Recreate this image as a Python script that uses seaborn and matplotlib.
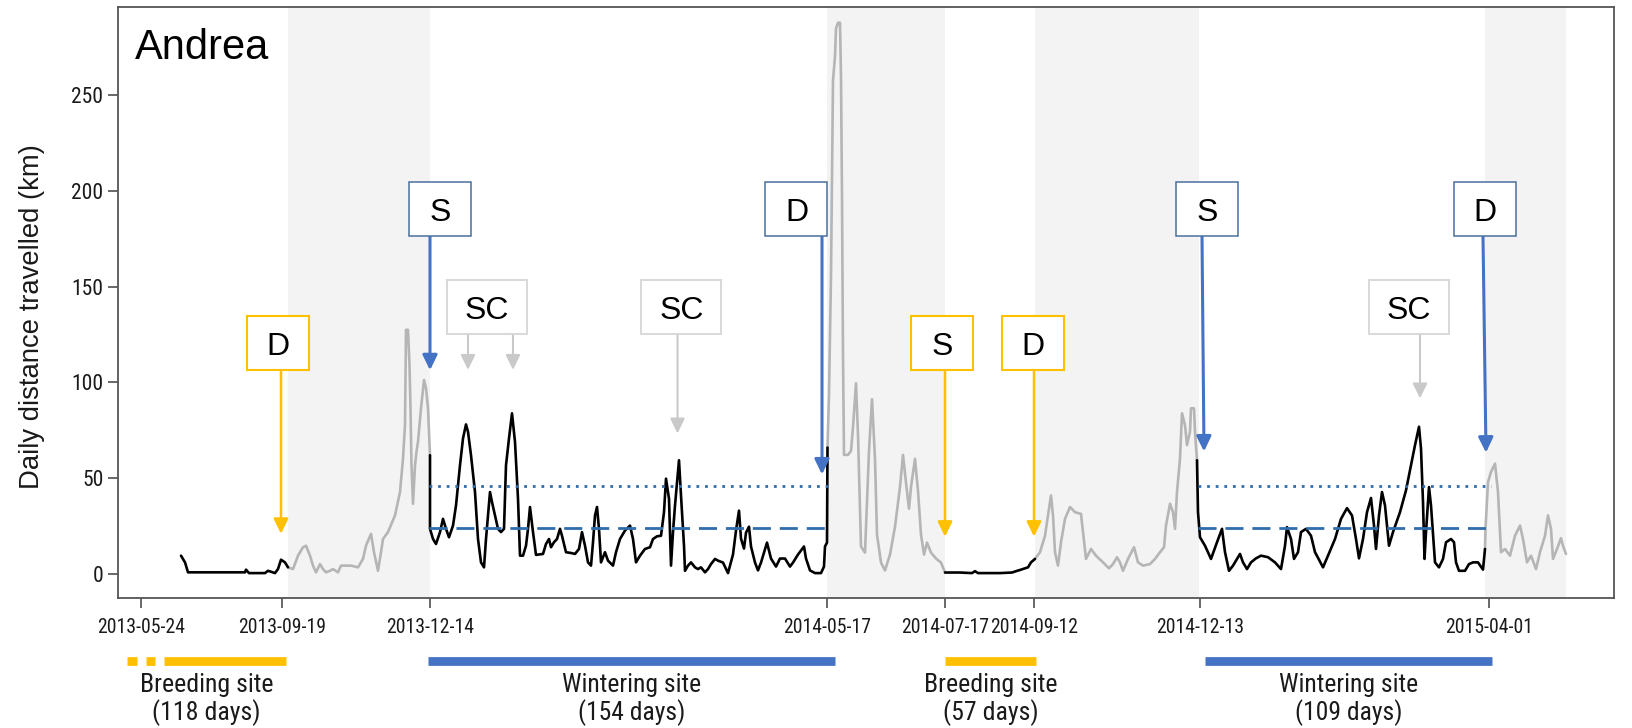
import numpy as np
import pandas as pd
import matplotlib
matplotlib.use("Agg")
import matplotlib.pyplot as plt
import matplotlib.transforms as mtransforms
from matplotlib import font_manager as fm
from matplotlib.patches import Rectangle
import seaborn as sns

# ---------------- data (x = fix index along the track, km = daily distance) -------------
breed1_x = [181, 185, 188, 245, 246, 249, 265, 268, 271, 275, 278, 281, 285, 288]
breed1_km = [9.6, 6.1, 0.9, 0.9, 2.3, 0.5, 0.5, 1.7, 1.2, 0.5, 2.6, 7.5, 6.1, 3.5]

mig1_x = [288, 293, 298, 303, 306, 310, 313, 316, 320, 323, 326, 330, 333, 338, 341,
          351, 358, 363, 366, 371, 374, 378, 381, 383, 388, 395, 400, 403, 405, 406,
          408, 409.5, 410.5, 411.5, 413, 415, 416.5, 418, 421, 424, 426, 428, 430]
mig1_km = [3.5, 2.6, 9.6, 14.0, 14.8, 9.6, 4.4, 0.9, 5.2, 2.6, 0.9, 1.7, 2.6, 0.9, 4.4,
           4.4, 3.5, 7.9, 14.8, 21.0, 11.4, 1.7, 11.4, 18.3, 21.9, 30.6, 42.8, 60.3, 77.7, 127.5,
           127.5, 109.0, 86.5, 56.8, 36.7, 56.8, 63.8, 69.0, 86.5, 101.3, 97.0, 86.5, 62.0]

wint1_x = [430, 430, 433, 436, 440, 443, 446, 449, 453, 456, 460, 463, 466, 468, 471,
           475, 478, 481, 484, 486, 490, 492, 495, 498, 501, 504, 506, 509, 512, 515,
           518, 520, 523, 526, 528, 530, 533, 536, 543, 546, 549, 551, 554, 557, 560,
           562, 566, 571, 575, 579, 582, 585, 588, 591, 593, 595, 597, 599, 601, 605,
           608, 613, 616, 620, 625, 630, 633, 636, 640, 645, 650, 653, 657, 661, 664,
           666, 669, 671, 673, 675, 679, 681, 684, 685, 688, 691, 695, 698, 701, 705,
           708, 711, 715, 718, 723, 728, 733, 736, 739, 741, 744, 746, 749, 751, 755,
           758, 761, 767, 771, 776, 780, 785, 790, 793, 798, 804, 806, 810, 815, 821,
           824, 825, 827, 827.5]
wint1_km = [62.0, 23.6, 18.3, 15.7, 21.9, 28.8, 23.6, 19.2, 25.3, 35.8, 56.8, 70.8, 78.1, 74.3, 62.0,
            42.8, 18.3, 6.1, 3.5, 18.3, 42.8, 37.6, 30.6, 23.6, 21.9, 23.6, 56.8, 70.8, 83.9, 69.0,
            39.3, 9.6, 9.6, 14.8, 23.6, 35.0, 21.9, 10.0, 10.5, 15.7, 18.3, 14.0, 16.6, 18.3, 23.6,
            20.0, 11.4, 11.0, 10.5, 13.1, 21.9, 14.8, 6.1, 4.4, 16.6, 30.6, 35.0, 23.6, 6.1, 11.4,
            7.0, 4.4, 11.4, 18.3, 22.7, 25.3, 18.3, 6.1, 9.6, 13.1, 14.0, 18.3, 19.7, 20.0, 32.3,
            49.8, 39.3, 4.4, 21.9, 35.8, 59.4, 41.0, 14.8, 1.7, 4.4, 6.1, 3.5, 2.6, 3.5, 0.9,
            2.6, 5.2, 7.9, 7.0, 6.0, 0.5, 10.2, 22.7, 33.1, 18.5, 13.3, 21.6, 24.7, 14.4, 6.0,
            1.9, 6.0, 16.4, 8.1, 3.9, 8.1, 8.1, 3.9, 6.0, 10.2, 14.4, 8.1, 1.9, 0.5, 0.5,
            3.9, 14.4, 16.4, 66.0]

mig2_x = [827.5, 829, 831, 833, 835, 836, 838, 840, 841, 842, 843, 844, 848, 851, 853,
          856, 858, 861, 865, 869, 872, 875, 877, 881, 885, 890, 895, 900, 903, 906,
          909, 911, 915, 918, 921, 924, 927, 931, 936, 941, 945]
mig2_km = [66.0, 93.4, 155.8, 257.7, 270.2, 284.8, 287.8, 287.8, 259.7, 197.4, 114.2, 62.2, 62.2, 64.3, 76.7,
           99.6, 72.6, 14.4, 11.2, 64.3, 91.3, 60.1, 20.6, 6.0, 1.9, 10.2, 24.7, 45.5, 62.2, 47.6,
           34.1, 45.5, 60.1, 43.4, 20.6, 10.2, 16.4, 11.2, 8.1, 6.0, 0.8]

breed2_x = [945, 960, 972, 975, 978, 1000, 1012, 1016, 1021, 1025, 1028, 1031, 1035]
breed2_km = [0.8, 0.8, 0.5, 1.5, 0.5, 0.5, 0.8, 1.5, 2.3, 3.0, 3.5, 6.1, 7.9]

mig3_x = [1035, 1040, 1045, 1048, 1051, 1053, 1055, 1058, 1061, 1065, 1070, 1075, 1081, 1083, 1086,
          1091, 1096, 1103, 1109, 1113, 1117, 1120, 1123, 1128, 1134, 1138, 1143, 1150, 1155, 1160,
          1164, 1166, 1170, 1173, 1175, 1177, 1180, 1182, 1185, 1187, 1190, 1191, 1194, 1195, 1197]
mig3_km = [7.9, 11.4, 20.0, 30.6, 41.0, 30.6, 11.4, 4.4, 16.6, 28.8, 35.0, 32.3, 31.4, 21.9, 7.9,
           13.1, 9.6, 6.1, 3.0, 5.2, 8.8, 6.1, 1.7, 7.9, 14.0, 6.1, 4.4, 5.2, 7.9, 11.4,
           14.0, 25.3, 36.7, 32.3, 23.6, 42.8, 60.3, 83.9, 77.7, 67.3, 74.3, 86.5, 86.5, 74.3, 59.4]

wint2_x = [1197, 1198, 1200, 1205, 1211, 1217, 1222, 1225, 1229, 1233, 1236, 1240, 1243, 1247, 1251,
           1256, 1261, 1268, 1275, 1281, 1285, 1287, 1291, 1294, 1298, 1301, 1306, 1311, 1315, 1318,
           1323, 1328, 1335, 1341, 1347, 1352, 1356, 1359, 1363, 1367, 1371, 1374, 1376, 1379, 1382,
           1385, 1389, 1393, 1400, 1406, 1411, 1415, 1419, 1421, 1423, 1424.5, 1426, 1429, 1431, 1435,
           1439, 1443, 1446, 1451, 1454, 1456, 1459, 1465, 1469, 1473, 1478, 1483, 1485]
wint2_km = [59.4, 32.3, 19.2, 14.8, 7.9, 16.6, 23.6, 11.4, 1.7, 4.4, 7.0, 10.5, 6.1, 2.6, 6.1,
            8.2, 9.6, 8.8, 6.1, 2.6, 14.8, 24.5, 18.3, 7.9, 11.4, 21.9, 23.6, 20.0, 11.4, 8.5,
            3.5, 9.6, 18.3, 28.8, 34.4, 30.6, 18.3, 8.2, 18.3, 32.3, 39.7, 25.3, 13.1, 30.6, 42.8,
            35.8, 14.8, 21.9, 32.3, 43.7, 56.8, 67.3, 76.9, 65.5, 37.6, 7.9, 21.9, 45.4, 35.8, 6.1,
            3.5, 7.9, 16.6, 18.3, 16.6, 6.1, 1.7, 1.7, 5.2, 6.1, 6.1, 2.3, 13.1]

mig4_x = [1485, 1485.5, 1488, 1491, 1495, 1498, 1501, 1505, 1510, 1515, 1520, 1523, 1527, 1531, 1536,
          1540, 1545, 1548, 1551, 1553, 1557, 1561, 1563, 1566]
mig4_km = [13.1, 23.6, 48.0, 53.3, 57.6, 42.8, 11.4, 13.1, 9.6, 20.0, 25.3, 18.3, 6.1, 9.6, 2.6,
           11.4, 20.0, 30.6, 23.6, 7.9, 13.1, 18.7, 14.8, 10.5]

# wintering-site reference lines (km)
wint_periods = [(429, 833), (1198, 1491)]
wint_dashed_km = [24.3, 24.3]
wint_dotted_km = [45.8, 45.8]

# shaded migration periods
band_start = [288, 827.5, 1035, 1485]
band_end = [430, 945, 1199, 1566]

tick_pos = [141, 282, 430, 827, 945, 1034, 1200, 1489]
tick_labels = ["2013-05-24", "2013-09-19", "2013-12-14", "2014-05-17",
               "2014-07-17", "2014-09-12", "2014-12-13", "2015-04-01"]
ytick_vals = [0, 50, 100, 150, 200, 250]

# annotations: label, kind, box centre, arrows (start x, tip x, tip km)
annots = [
    ("D", "yellow", 278, [(281, 281, 21.0)]),
    ("S", "blue", 440, [(430, 430, 106.4)]),
    ("SC", "gray", 487, [(468, 468, 106.6), (513, 513, 106.6)]),
    ("SC", "gray", 681.5, [(677.5, 677.5, 73.4)]),
    ("D", "blue", 796.5, [(822, 822, 52.0)]),
    ("S", "yellow", 942, [(945, 945, 19.5)]),
    ("D", "yellow", 1033, [(1034, 1034, 19.5)]),
    ("S", "blue", 1207.5, [(1202, 1204, 64.0)]),
    ("SC", "gray", 1409, [(1420, 1420, 91.7)]),
    ("D", "blue", 1485, [(1483, 1486, 63.4)]),
]

# site bars below the axis
site_bars = [
    ([(127.5, 137), (146, 155.5), (164, 286)], "yellow", "Breeding site", "(118 days)"),
    ([(428, 835)], "blue", "Wintering site", "(154 days)"),
    ([(945, 1036)], "yellow", "Breeding site", "(57 days)"),
    ([(1205, 1492)], "blue", "Wintering site", "(109 days)"),
]

# ---------------- styling ----------------
sns.set_theme(style="white")
plt.rcParams['font.family'] = ['Liberation Sans', 'DejaVu Sans']


def find_narrow():
    names = ['Liberation Sans Narrow', 'Arial Narrow', 'Roboto Condensed',
             'DejaVu Sans Condensed', 'Open Sans Condensed', 'Noto Sans Condensed']
    tl = fm.fontManager.ttflist
    for n in names:
        for f in tl:
            if f.name == n and f.style == 'normal' and f.weight in (400, 'normal', 'regular'):
                return f.fname
    for f in tl:
        if (f.stretch in ('condensed', 'semi-condensed') and f.style == 'normal'
                and f.weight in (400, 'normal', 'regular')
                and any(k in f.name for k in ('Sans', 'Roboto', 'Lato', 'Inter'))
                and 'Mono' not in f.name):
            return f.fname
    return None


NARROW_FILE = find_narrow()


def narrow_fp(size):
    if NARROW_FILE:
        return fm.FontProperties(fname=NARROW_FILE, size=size)
    return fm.FontProperties(family=['Liberation Sans', 'DejaVu Sans'], size=size)


YEL = "#FFC000"
BLU = "#4472C4"
BLU_EDGE = "#4A6F9C"
GRY_ARROW = "#C9C9C9"
GRY_EDGE = "#D6D6D6"
REF = "#2F6EAA"
colors = {"yellow": YEL, "blue": BLU, "gray": GRY_ARROW}
edges = {"yellow": YEL, "blue": BLU_EDGE, "gray": GRY_EDGE}
arrow_lw = {"yellow": 1.8, "blue": 2.2, "gray": 1.5}
edge_lw = {"yellow": 1.5, "blue": 1.1, "gray": 1.3}

W, H = 1633, 728
fig = plt.figure(figsize=(W / 100, H / 100), dpi=100)
ax = fig.add_axes([118 / W, 1 - 598 / H, (1614 - 118) / W, (598 - 7) / H])
renderer = fig.canvas.get_renderer()


def fit_text(t, target_w, max_size):
    """scale a text so its width matches target_w pixels (never above max_size)."""
    size = max_size
    t.set_fontproperties(narrow_fp(size))
    w = t.get_window_extent(renderer).width
    if w > target_w:
        t.set_fontproperties(narrow_fp(size * target_w / w))


# px -> km for layout
def px2km(py):
    return (574 - py) / 1.916


for s, e in zip(band_start, band_end):
    ax.axvspan(s, e, color="#F3F3F3", lw=0, zorder=0)

segs = [("b1", "stationary", breed1_x, breed1_km), ("m1", "migration", mig1_x, mig1_km),
        ("w1", "stationary", wint1_x, wint1_km), ("m2", "migration", mig2_x, mig2_km),
        ("b2", "stationary", breed2_x, breed2_km), ("m3", "migration", mig3_x, mig3_km),
        ("w2", "stationary", wint2_x, wint2_km), ("m4", "migration", mig4_x, mig4_km)]
frames = []
for sid, phase, xs, ys in segs:
    frames.append(pd.DataFrame({"x": xs, "km": ys, "seg": sid, "phase": phase}))
df = pd.concat(frames, ignore_index=True)

sns.lineplot(data=df[df.phase == "migration"], x="x", y="km", units="seg", estimator=None,
             sort=False, color="#B5B5B5", lw=1.9, ax=ax, zorder=2, legend=False)
sns.lineplot(data=df[df.phase == "stationary"], x="x", y="km", units="seg", estimator=None,
             sort=False, color="black", lw=1.9, ax=ax, zorder=3, legend=False)

for (s, e), dk, tk in zip(wint_periods, wint_dashed_km, wint_dotted_km):
    ax.plot([s, e], [dk, dk], color=REF, lw=2.0, dashes=(6.5, 3.2), zorder=4)
    ax.plot([s, e], [tk, tk], color=REF, lw=2.0, dashes=(1, 2.1), zorder=4)

# annotation boxes and arrows
box_v = {"blue": (px2km(236), px2km(182)), "yellow": (px2km(370), px2km(316)),
         "gray": (px2km(334), px2km(280))}
for label, kind, cx, arrows in annots:
    lo, hi = box_v[kind]
    w = 80 if label == "SC" else 62
    ax.add_patch(Rectangle((cx - w / 2, lo), w, hi - lo, facecolor="white",
                           edgecolor=edges[kind], lw=edge_lw[kind], zorder=6))
    ax.text(cx, (lo + hi) / 2, label, ha="center", va="center_baseline",
            fontsize=23, color="black", zorder=7)
    for sx, tx, tv in arrows:
        ax.annotate("", xy=(tx, tv), xytext=(sx, lo),
                    arrowprops=dict(arrowstyle="-|>,head_length=0.45,head_width=0.22",
                                    color=colors[kind], lw=arrow_lw[kind],
                                    shrinkA=0, shrinkB=0, mutation_scale=20),
                    zorder=5)

ax.text(135, px2km(59), "Andrea", fontsize=30, ha="left", va="baseline", color="black")

ax.set_xlim(118, 1614)
ax.set_ylim(-12.5, 296)
ax.set_xticks(tick_pos)
ax.set_xticklabels(tick_labels)
ax.set_yticks(ytick_vals)
ax.set_yticklabels([str(v) for v in ytick_vals])
ax.tick_params(axis="x", length=7.2, width=1.1, pad=7,
               color="#404040", labelcolor="#1a1a1a", bottom=True)
ax.tick_params(axis="y", length=7, width=1.1, pad=3.5,
               color="#404040", labelcolor="#1a1a1a", left=True)
for t in ax.get_xticklabels():
    fit_text(t, 88, 15)
for t in ax.get_yticklabels():
    t.set_fontproperties(narrow_fp(15.5))
ax.set_xlabel("")
ax.set_ylabel("Daily distance travelled (km)", fontsize=19.8, color="#1a1a1a")
ax.yaxis.set_label_coords(-0.0485, 0.477)
for sp in ax.spines.values():
    sp.set_visible(True)
    sp.set_color("#555555")
    sp.set_linewidth(1.3)

# site bars and labels below the axis
tr = mtransforms.blended_transform_factory(ax.transData, fig.transFigure)
for pieces, kind, name, days in site_bars:
    for s, e in pieces:
        ax.plot([s, e], [1 - 661 / H, 1 - 661 / H], transform=tr, color=colors[kind],
                lw=6.3, solid_capstyle="butt", clip_on=False)
    cx = (pieces[0][0] + pieces[-1][1]) / 2
    t1 = ax.text(cx, 1 - 692 / H, name, transform=tr, ha="center", va="baseline",
                 color="#1a1a1a")
    fit_text(t1, 134 if name.startswith("B") else 139, 19.5)
    t2 = ax.text(cx, 1 - 720 / H, days, transform=tr, ha="center", va="baseline",
                 color="#1a1a1a")
    t2.set_fontproperties(t1.get_fontproperties())

fig.savefig("out.png", dpi=100)
